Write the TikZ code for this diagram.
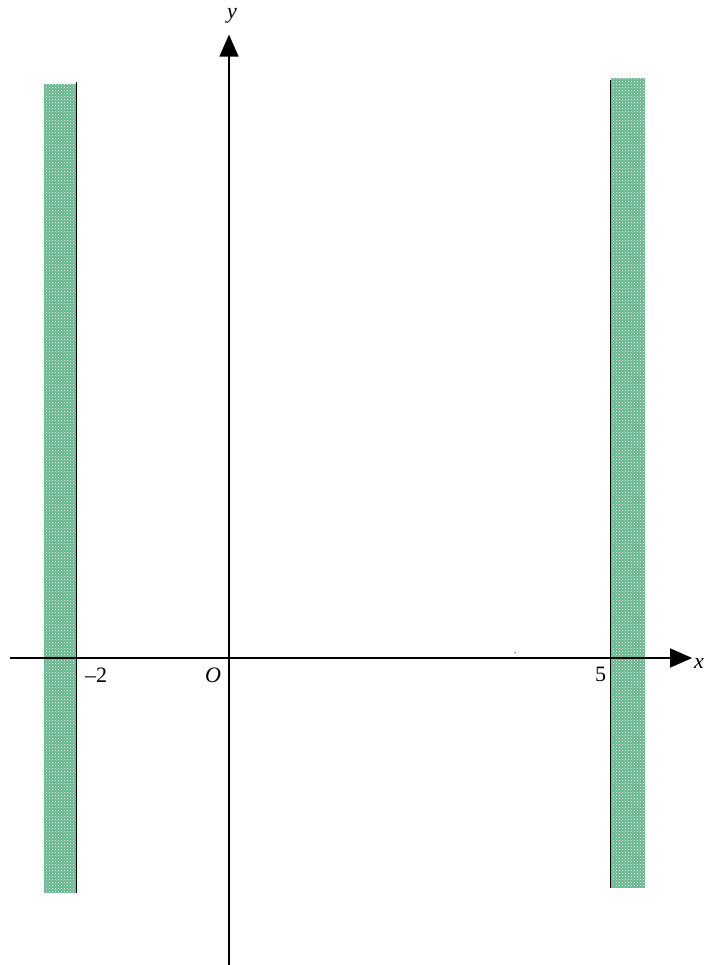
\documentclass[tikz,border=0pt]{standalone}
\usepackage{fontspec}
\setmainfont{Liberation Serif}
\usetikzlibrary{arrows.meta,patterns}
\definecolor{StripGreen}{RGB}{100,180,140}
\tikzset{
  axisline/.style={line width=1.3pt,-{Triangle[length=22pt,width=19pt]}},
  strip/.style={fill=StripGreen},
  stripdots/.style={pattern=crosshatch dots,pattern color=white},
  edgeline/.style={line width=1.7pt},
  lbl/.style={font=\fontsize{22}{26}\selectfont,inner sep=0pt}
}

\begin{document}
\begin{tikzpicture}[x=76.3pt,y=76.3pt]
  \useasboundingbox (-3.0013,-4.0236) rectangle (6.2254,8.6239);
  % shaded strips
  \fill[strip] (-2.43,-3.08) rectangle (-2,7.52);
  \fill[strip] (5,-3.01) rectangle (5.45,7.60);
  \fill[stripdots] (-2.43,-3.08) rectangle (-2,7.52);
  \fill[stripdots] (5,-3.01) rectangle (5.45,7.60);
  % axes
  \coordinate (xl) at (-2.87,0);
  \coordinate (xr) at (6.07,0);
  \coordinate (yb) at (0,-4.03);
  \coordinate (yt) at (0,8.17);
  \draw[axisline] (xl)--(xr);
  \draw[axisline] (yb)--(yt);
  % boundary lines x=-2 and x=5
  \draw[edgeline] (-2,-3.08)--(-2,7.55);
  \draw[edgeline] (5,-3.01)--(5,7.58);
  \fill (3.75,0.07) circle (0.6pt);
  % labels
  \node[lbl] (ylbl) at (0.04,8.42) {\textit{y}};
  \node[lbl] (xlbl) at (6.16,-0.07) {\textit{x}};
  \node[lbl] (mtwo) at (-1.74,-0.23) {–2};
  \node[lbl] (olbl) at (-0.21,-0.23) {\textit{O}};
  \node[lbl] (five) at (4.87,-0.22) {5};
\end{tikzpicture}
\end{document}
